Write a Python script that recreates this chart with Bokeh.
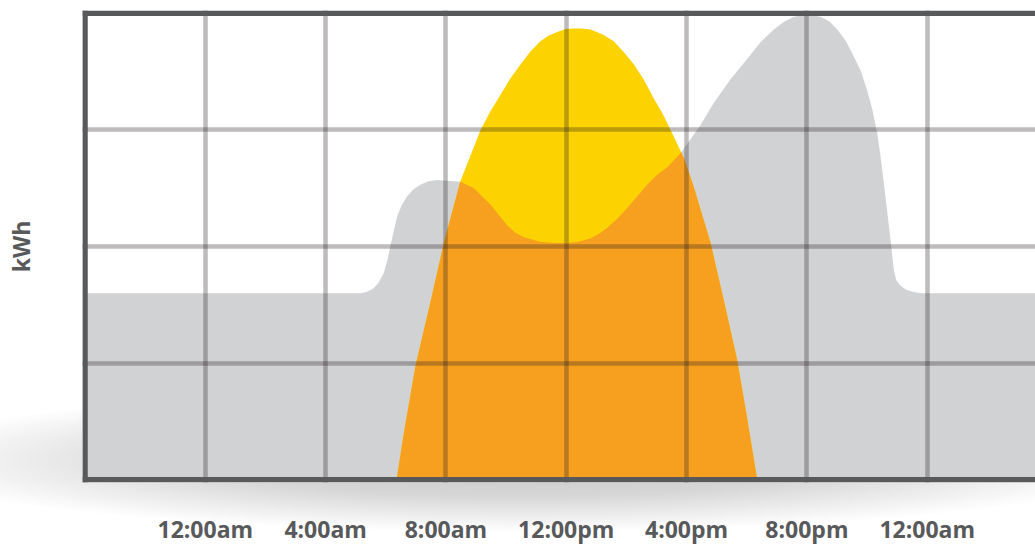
import numpy as np
from bokeh.plotting import figure
from bokeh.models import FixedTicker, Span, Range1d
from bokeh.embed import file_html
from bokeh.resources import INLINE

# ---- data ----
tick_hours = [0, 4, 8, 12, 16, 20, 24]
tick_labels = ["12:00am", "4:00am", "8:00am", "12:00pm", "4:00pm", "8:00pm", "12:00am"]
kwh_grid = [1, 2, 3]

use_hours = [-4.0, 5.16, 5.36, 5.59, 5.76, 5.93, 6.05, 6.16, 6.27, 6.38, 6.52, 6.71, 6.92,
             7.15, 7.42, 7.71, 8.25, 8.48, 8.93, 9.20, 9.48, 9.76, 10.04, 10.30, 10.59,
             11.14, 11.60, 12.03, 12.40, 12.81, 13.10, 13.36, 13.70, 14.03, 14.36, 14.69,
             15.00, 15.36, 15.80, 16.13, 16.46, 16.90, 17.45, 18.02, 18.45, 18.90, 19.25,
             19.56, 20.01, 20.45, 20.75, 21.01, 21.30, 21.56, 21.80, 22.00, 22.18, 22.34,
             22.45, 22.56, 22.67, 22.78, 22.89, 22.97, 23.11, 23.30, 23.55, 23.80, 24.11, 27.6]
use_kwh = [1.60, 1.60, 1.61, 1.64, 1.69, 1.77, 1.88, 2.01, 2.14, 2.26, 2.35, 2.43, 2.49,
           2.53, 2.56, 2.57, 2.56, 2.555, 2.50, 2.43, 2.36, 2.27, 2.18, 2.12, 2.08,
           2.04, 2.03, 2.03, 2.04, 2.07, 2.11, 2.16, 2.24, 2.33, 2.43, 2.53,
           2.61, 2.68, 2.80, 2.92, 3.04, 3.23, 3.43, 3.61, 3.75, 3.86, 3.93,
           3.97, 3.99, 3.97, 3.93, 3.86, 3.76, 3.63, 3.50, 3.34, 3.17, 2.97,
           2.77, 2.54, 2.30, 2.06, 1.80, 1.71, 1.665, 1.63, 1.61, 1.60, 1.60, 1.60]

sun_hours = [6.36, 6.60, 6.99, 7.49, 7.93, 8.48, 9.15, 9.48, 9.81, 10.14, 10.48, 10.80,
             11.14, 11.42, 11.70, 11.98, 12.25, 12.53, 12.81, 13.20, 13.58, 13.90, 14.25,
             14.58, 14.91, 15.20, 15.47, 15.91, 16.24, 16.80, 17.29, 17.68, 18.00, 18.35]
sun_kwh = [0.0, 0.40, 0.98, 1.53, 2.03, 2.56, 3.00, 3.16, 3.30, 3.44, 3.56, 3.67,
           3.76, 3.81, 3.84, 3.865, 3.87, 3.87, 3.86, 3.82, 3.76, 3.67, 3.56,
           3.43, 3.27, 3.14, 3.00, 2.76, 2.51, 2.03, 1.48, 1.03, 0.55, 0.0]

GRAY = "#d1d2d4"
YELLOW = "#fcd200"
ORANGE = "#f7a01f"
DARK = "#58595b"
FONT = "Open Sans"

SHADOW = ("radial-gradient(ellipse 640px 72px at 520px 460px, "
          "rgba(0,0,0,0.22) 0%, rgba(0,0,0,0.16) 50%, rgba(0,0,0,0.07) 78%, rgba(0,0,0,0) 100%)")

p = figure(frame_width=953, frame_height=472,
           min_border_left=82, min_border_right=0, min_border_top=10, min_border_bottom=62,
           x_range=Range1d(-4.083, 27.60), y_range=Range1d(-0.024, 4.024),
           output_backend="svg", toolbar_location=None,
           styles={"background": SHADOW})
p.outline_line_color = None
p.background_fill_color = "white"
p.border_fill_color = None

# consumption (gray)
p.varea(x=use_hours, y1=0, y2=use_kwh, fill_color=GRAY)
# solar production (yellow)
p.varea(x=sun_hours, y1=0, y2=sun_kwh, fill_color=YELLOW)
# overlap: solar used directly (orange) = min(solar, consumption)
xs = np.linspace(min(sun_hours), max(sun_hours), 2400)
overlap = np.minimum(np.interp(xs, sun_hours, sun_kwh), np.interp(xs, use_hours, use_kwh))
p.varea(x=xs, y1=0, y2=overlap, fill_color=ORANGE)

# grid on top of the areas
for g in (p.xgrid, p.ygrid):
    g.grid_line_color = "#231f20"
    g.grid_line_alpha = 0.3
    g.grid_line_width = 4.5
    g.level = "annotation"
p.xgrid.ticker = FixedTicker(ticks=tick_hours)
p.ygrid.ticker = FixedTicker(ticks=kwh_grid)

# chart border (left, top, bottom)
for loc, dim in ((-4, "height"), (0, "width"), (4, "width")):
    p.add_layout(Span(location=loc, dimension=dim, line_color=DARK, line_width=5.5))

# x axis
xa = p.xaxis[0]
xa.ticker = FixedTicker(ticks=tick_hours)
xa.major_label_overrides = {h: t for h, t in zip(tick_hours, tick_labels)}
xa.axis_line_color = None
xa.major_tick_line_color = None
xa.minor_tick_line_color = None
xa.major_label_standoff = 24
xa.major_label_text_font = FONT
xa.major_label_text_font_style = "bold"
xa.major_label_text_font_size = "23px"
xa.major_label_text_color = DARK

# y axis: label only
ya = p.yaxis[0]
ya.ticker = FixedTicker(ticks=[])
ya.axis_line_color = None
ya.major_tick_line_color = None
ya.minor_tick_line_color = None
ya.axis_label = "kWh"
ya.axis_label_text_font = FONT
ya.axis_label_text_font_style = "bold"
ya.axis_label_text_font_size = "23px"
ya.axis_label_text_color = DARK
ya.axis_label_standoff = 46

open("out.html", "w").write(file_html(p, INLINE))
